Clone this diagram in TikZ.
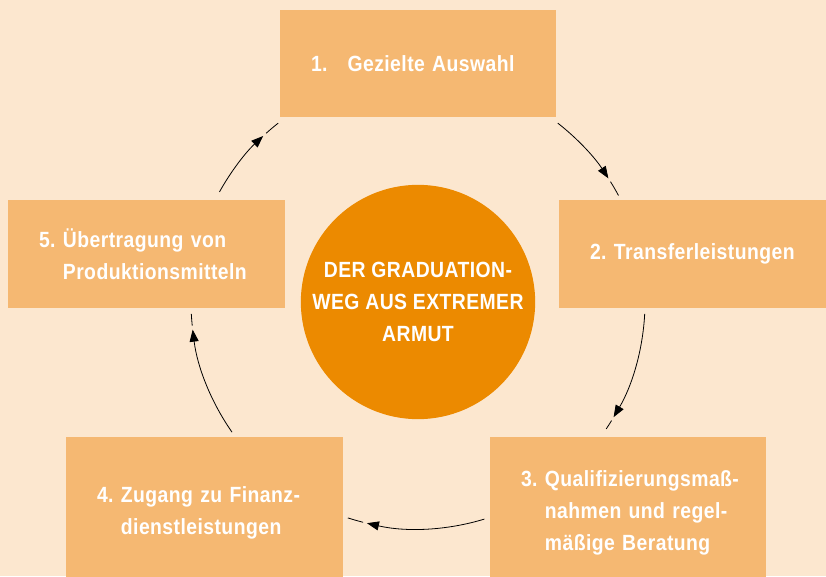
\documentclass[tikz,border=0pt]{standalone}
\usepackage{fontspec}
\setmainfont[FakeStretch=0.88,LetterSpace=2]{Liberation Sans}
\usetikzlibrary{arrows.meta}
\definecolor{bgpeach}{HTML}{FCE7CF}
\definecolor{boxorange}{HTML}{F5B872}
\definecolor{coreorange}{HTML}{EC8A00}
\newcommand{\nohyph}{\hyphenpenalty=10000\exhyphenpenalty=10000\relax}
\tikzset{
  labelfont/.style={font=\bfseries\fontsize{22}{32}\selectfont\nohyph},
  stepbox/.style={fill=boxorange, text=white, align=left, inner xsep=31pt, labelfont},
  cyclearrow/.style={line width=0.8pt, -{Triangle[length=12pt,width=9pt]}}
}
\begin{document}
\begin{tikzpicture}[x=1pt,y=1pt]
\fill[bgpeach] (0,0) rectangle (826,576);
\useasboundingbox (0,0) rectangle (826,576);

% the five steps
\node[stepbox, text width=214pt, minimum height=107pt] (s1) at (418,512.5) {1.\hspace{20pt}Gezielte~Auswahl};
\node[stepbox, text width=205pt, minimum height=108pt] (s2) at (692.5,322) {2.~Transferleistungen};
\node[stepbox, text width=214pt, minimum height=151pt] (s3) at (628,63.5) {3.~Qualifizierungsmaß-\\\phantom{3.~}nahmen~und~regel-\\\phantom{3.~}mäßige~Beratung};
\node[stepbox, text width=215pt, minimum height=151pt] (s4) at (204.5,63.5) {4.~Zugang~zu~Finanz-\\\phantom{4.~}dienstleistungen};
\node[stepbox, text width=215pt, minimum height=108pt] (s5) at (146.5,322) {5.~Übertragung~von\\\phantom{5.~}Produktionsmitteln};

\node[circle, fill=coreorange, text=white, minimum size=230pt, align=center, labelfont] (core) at (418,274)
  {DER GRADUATION-\\WEG AUS EXTREMER\\ARMUT};

% arcs between the steps: start / tip / rest / end angle
\foreach \a/\b/\c/\d in {52/33/32/28, -3/-30.5/-31.5/-34, -73/-103/-104/-108, 215/187/186/183, 151/133/132/128}{
  \draw[cyclearrow] (core.center) ++(\a:227) arc[start angle=\a, end angle=\b, radius=227];
  \draw[line width=0.8pt] (core.center) ++(\c:227) arc[start angle=\c, end angle=\d, radius=227];
}
\end{tikzpicture}
\end{document}
